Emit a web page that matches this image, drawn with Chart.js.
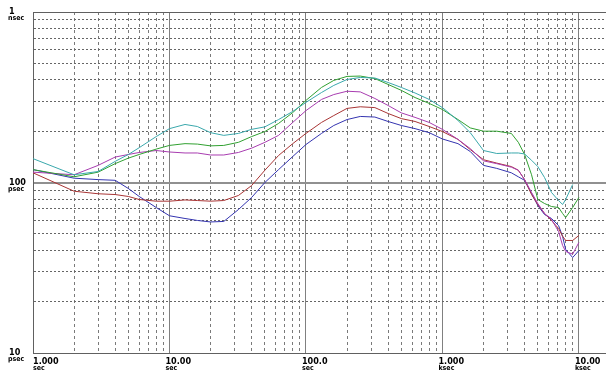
<!DOCTYPE html>
<html>
<head>
<meta charset="utf-8">
<script src="https://cdn.jsdelivr.net/npm/chart.js@4.4.1/dist/chart.umd.min.js"></script>
<style>
  html, body { margin: 0; padding: 0; background: #ffffff; }
  #wrap { width: 606px; height: 372px; }
</style>
</head>
<body>
<div id="wrap"><canvas id="chart" width="606" height="372"></canvas></div>
<script>
// averaging time (sec)
const taus = [1, 2, 3, 4, 5, 6, 8, 10, 13, 16, 20, 25, 32, 40, 50, 63, 80, 100, 130, 160, 200, 250, 320, 400, 500, 630, 800, 1000, 1300, 1600, 2000, 2500, 3200, 3600, 4000, 4500, 5000, 5600, 6300, 7100, 7600, 8000, 9000, 10000];

// deviation values (psec), one array per trace
const traceCyan = [138, 111, 116, 133, 146, 160, 186, 207, 219, 213, 196, 189, 194, 205, 212, 234, 261, 295, 337, 371, 402, 413, 410, 386, 361, 335, 307, 275, 231, 196, 154, 148, 149, 149, 147, 135, 124, 107, 87.4, 78.4, 74.3, 79.5, 97.3, null];
const traceGreen = [119, 108, 115, 129, 139, 146, 157, 165, 169, 168, 164, 165, 172, 186, 199, 222, 257, 303, 361, 397, 419, 421, 407, 376, 347, 315, 291, 268, 234, 209, 200, 200, 194, 172, 146, 111, 79.5, 75.3, 72.3, 71.3, 65.8, 62.3, 71.3, 81.7];
const traceMagenta = [115, 111, 126, 141, 146, 150, 154, 151, 149, 149, 145, 145, 150, 159, 172, 189, 225, 264, 307, 328, 343, 340, 311, 283, 256, 241, 225, 205, 179, 158, 134, 129, 123, 118, 104, 87.4, 75.3, 65.8, 60.7, 51.6, 42.7, 39.4, 38.0, 44.5];
const traceRed = [114, 88.9, 85.9, 85.0, 82.8, 79.5, 77.7, 77.7, 79.0, 78.4, 77.7, 78.4, 83.9, 96, 118, 144, 169, 194, 225, 247, 272, 278, 275, 254, 237, 228, 213, 199, 179, 156, 136, 130, 124, 118, 104, 85.0, 74.3, 65.8, 59.9, 53.7, 48.4, 45.7, 45.7, 48.9];
const traceBlue = [119, 106, 104, 103, 92.2, 82.8, 71.3, 63.8, 61.5, 59.9, 58.7, 59.1, 69.4, 81.7, 100, 119, 142, 167, 194, 216, 234, 244, 242, 228, 216, 207, 196, 180, 169, 152, 126, 121, 114, 108, 103, 86.2, 73.3, 64.9, 61.5, 55.9, 48.2, 40.5, 36.3, 39.9];

// axis labels
const xLabelValues = [1, 10, 100, 1000, 10000];
const xLabelNumbers = ['1.000', '10.00', '100.0', '1.000', '10.00'];
const xLabelUnits = ['sec', 'sec', 'sec', 'ksec', 'ksec'];
const yLabelValues = [1000, 100, 10];
const yLabelNumbers = ['1', '100', '10'];
const yLabelUnits = ['nsec', 'psec', 'psec'];

const traceColors = ['#3aa8ac', '#30a030', '#a83cb0', '#a83434', '#3434b0'];

function toPoints(values) {
    return taus.map((t, i) => ({ x: t, y: values[i] }));
}

function isDecade(v) {
    const l = Math.log10(v);
    return Math.abs(l - Math.round(l)) < 1e-9;
}

function decadeTicks(lo, hi) {
    const ticks = [];
    for (let d = lo; d <= hi; d *= 10) {
        for (let m = 1; m <= 9; m++) {
            const v = m * d;
            if (v > hi) break;
            ticks.push({ value: v });
        }
    }
    return ticks;
}

// draws the two-line axis labels next to the scales
const axisLabels = {
    id: 'axisLabels',
    afterDraw(chart) {
        const ctx = chart.ctx;
        const xs = chart.scales.x;
        const ys = chart.scales.y;
        const numFont = 'bold 9px "Liberation Sans Narrow", "DejaVu Sans Condensed", "Liberation Sans", sans-serif';
        const unitFont = 'bold 7px "Liberation Sans Narrow", "DejaVu Sans Condensed", "Liberation Sans", sans-serif';
        ctx.save();
        ctx.fillStyle = '#000000';
        ctx.textAlign = 'left';
        ctx.textBaseline = 'alphabetic';
        xLabelValues.forEach((v, i) => {
            const px = Math.max(chart.chartArea.left, xs.getPixelForValue(v) - 4);
            ctx.font = numFont;
            ctx.fillText(xLabelNumbers[i], px, ys.bottom + 11);
            ctx.font = unitFont;
            ctx.fillText(xLabelUnits[i], px, ys.bottom + 17);
        });
        yLabelValues.forEach((v, i) => {
            const py = ys.getPixelForValue(v);
            ctx.font = numFont;
            ctx.fillText(yLabelNumbers[i], 9, py + 2);
            ctx.font = unitFont;
            ctx.fillText(yLabelUnits[i], 8, py + 8);
        });
        ctx.restore();
    }
};

const names = ['cyan', 'green', 'magenta', 'red', 'blue'];
const series = [traceCyan, traceGreen, traceMagenta, traceRed, traceBlue];

new Chart(document.getElementById('chart'), {
    type: 'line',
    data: {
        datasets: series.map((s, i) => ({
            label: names[i],
            data: toPoints(s),
            borderColor: traceColors[i],
            borderWidth: 1,
            pointRadius: 0,
            tension: 0,
            fill: false,
            spanGaps: false
        }))
    },
    options: {
        responsive: false,
        animation: false,
        events: [],
        layout: { padding: { left: 33, top: 12, right: 0, bottom: 19 } },
        plugins: { legend: { display: false }, tooltip: { enabled: false } },
        scales: {
            x: {
                type: 'logarithmic',
                min: 1,
                max: 15800,
                afterBuildTicks: scale => { scale.ticks = decadeTicks(1, 10000); },
                ticks: { display: false },
                grid: {
                    drawTicks: false,
                    tickLength: 0,
                    lineWidth: 1,
                    color: c => (c.tick && isDecade(c.tick.value)) ? '#808080' : '#7a7a7a'
                },
                border: {
                    color: '#606060',
                    width: 1,
                    dash: c => (c.tick && !isDecade(c.tick.value)) ? [3, 3] : []
                }
            },
            y: {
                type: 'logarithmic',
                min: 10,
                max: 1000,
                afterBuildTicks: scale => { scale.ticks = decadeTicks(10, 1000); },
                ticks: { display: false },
                grid: {
                    drawTicks: false,
                    tickLength: 0,
                    lineWidth: c => (c.tick && c.tick.value === 100) ? 2 : 1,
                    color: c => {
                        if (!c.tick) return '#606060';
                        if (c.tick.value === 100) return '#909090';
                        if (isDecade(c.tick.value)) return '#606060';
                        return '#666666';
                    }
                },
                border: {
                    color: '#606060',
                    width: 1,
                    dash: c => (c.tick && !isDecade(c.tick.value)) ? [2, 2] : []
                }
            }
        }
    },
    plugins: [axisLabels]
});
</script>
</body>
</html>
